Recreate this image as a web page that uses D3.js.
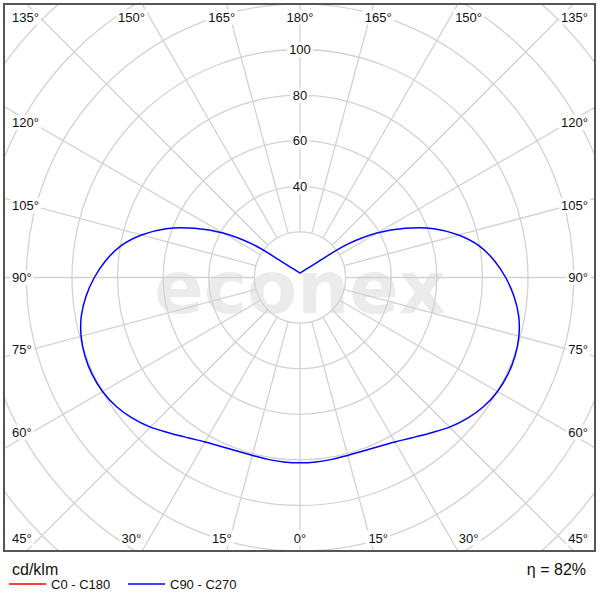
<!DOCTYPE html>
<html>
<head>
<meta charset="utf-8">
<script src="https://cdn.jsdelivr.net/npm/d3@7"></script>
<style>
body { margin: 0; background: #fff; }
svg { display: block; font-family: "Liberation Sans", Arial, sans-serif; }
</style>
</head>
<body>
<div id="polar"></div>
<script>
// gamma angles (deg from nadir) and intensity in cd/klm, one half plane, mirrored
const gammaAngles = [0, 5, 10, 15, 20, 25, 30, 35, 40, 45, 50, 55, 60, 65, 70, 75, 80, 85, 90,
		     95, 100, 105, 110, 115, 120, 125, 130, 135, 140, 145, 150, 155, 160, 165, 170, 175, 180];
const c90Values = [81.3, 81.2, 81.0, 80.8, 81.0, 81.8, 83.3, 85.8, 89.0, 92.8, 96.0, 98.5, 100.0, 100.6, 100.4, 99.4, 97.4, 94.2, 90.2,
		   85.5, 79.8, 72.0, 62.5, 51.0, 39.0, 25.5, 12.0, 7.0, 5.3, 4.3, 3.5, 3.0, 2.7, 2.4, 2.2, 2.05, 2.0];
const ringValues = [20, 40, 60, 80, 100, 120, 140, 160, 180];
const ringLabels = [40, 60, 80, 100];
const spokeAngles = d3.range(0, 360, 15);
const legendNames = ["C0 - C180", "C90 - C270"];
const legendColors = ["#ff0000", "#0000ff"];
const unitLabel = "cd/klm";
const effLabel = "\u03b7 = 82%";

const width = 600, height = 600;
const frame = { x: 4, y: 4, w: 591, h: 547 };
const cx = 300, cy = 277.5;

let svg = d3.select("#polar")
    .append("svg")
    .attr("width", width)
    .attr("height", height);

svg.append("rect")
    .attr("width", width).attr("height", height)
    .attr("fill", "#fff");

svg.append("clipPath")
    .attr("id", "frame-clip")
    .append("rect")
    .attr("x", frame.x).attr("y", frame.y)
    .attr("width", frame.w).attr("height", frame.h);

let r = d3.scaleLinear()
    .domain([0, 100])
    .range([0, 228]);

let plot = svg.append("g")
    .attr("clip-path", "url(#frame-clip)");

// watermark
plot.append("text")
    .attr("x", cx).attr("y", 313)
    .attr("text-anchor", "middle")
    .style("font-family", "'DejaVu Sans', Verdana, sans-serif")
    .style("font-weight", "bold")
    .style("font-size", "73px")
    .attr("fill", "#ebebeb")
    .text("econex");

let grid = plot.append("g")
    .attr("transform", "translate(" + cx + "," + cy + ")")
    .attr("fill", "none")
    .attr("stroke", "#d2d2d2")
    .attr("stroke-width", 1.3);

// rings
grid.selectAll("circle")
    .data(ringValues)
    .enter().append("circle")
    .attr("r", d => r(d));

// spokes, starting at the inner ring
grid.selectAll("line")
    .data(spokeAngles)
    .enter().append("line")
    .attr("x1", d => r(20) * Math.sin(d * Math.PI / 180))
    .attr("y1", d => r(20) * Math.cos(d * Math.PI / 180))
    .attr("x2", d => r(200) * Math.sin(d * Math.PI / 180))
    .attr("y2", d => r(200) * Math.cos(d * Math.PI / 180));

// full curve: right half 0..180, left half mirrored
let curvePts = [];
gammaAngles.forEach((g, i) => curvePts.push({ g: g, v: c90Values[i] }));
for (let i = gammaAngles.length - 2; i > 0; i--) {
    curvePts.push({ g: 360 - gammaAngles[i], v: c90Values[i] });
}

plot.append("path")
    .datum(curvePts)
    .attr("transform", "translate(" + cx + "," + cy + ")")
    .attr("fill", "none")
    .attr("stroke", legendColors[1])
    .attr("stroke-width", 1.5)
    .attr("d", d3.lineRadial()
	  .angle(d => Math.PI - d.g * Math.PI / 180)
	  .radius(d => r(d.v))
	  .curve(d3.curveCatmullRomClosed));

// labels with a white box behind them
function boxedLabel(parent, x, y, anchor, txt) {
    let g = parent.append("g");
    let t = g.append("text")
	.attr("x", x).attr("y", y)
	.attr("dy", "0.35em")
	.attr("text-anchor", anchor)
	.style("font-size", "13px")
	.attr("fill", "#111")
	.text(txt);
    let b = t.node().getBBox();
    g.insert("rect", "text")
	.attr("x", b.x - 2).attr("y", b.y)
	.attr("width", b.width + 4).attr("height", b.height)
	.attr("fill", "#fff");
}

function spokeLabelPos(g) {
    let a = g * Math.PI / 180;
    let sx = Math.sin(a), sy = Math.cos(a);
    let ax = Math.abs(sx), ay = Math.abs(sy);
    if (ay - ax > 0.01) {
	return { x: cx + 292 * sx / ay, y: sy > 0 ? 538 : 17, anchor: "middle" };
    }
    if (ax - ay > 0.01) {
	return { x: sx > 0 ? 588 : 12, y: cy + 268 * sy / ax, anchor: sx > 0 ? "end" : "start" };
    }
    return { x: sx > 0 ? 588 : 12, y: sy > 0 ? 538 : 17, anchor: sx > 0 ? "end" : "start" };
}

let labels = svg.append("g");
spokeAngles.forEach(function(g) {
    let p = spokeLabelPos(g);
    let deg = g <= 180 ? g : 360 - g;
    boxedLabel(labels, p.x, p.y, p.anchor, deg + "\u00b0");
});

ringLabels.forEach(function(v) {
    boxedLabel(labels, cx, cy - r(v), "middle", String(v));
});

// frame
svg.append("rect")
    .attr("x", frame.x).attr("y", frame.y)
    .attr("width", frame.w).attr("height", frame.h)
    .attr("fill", "none")
    .attr("stroke", "#555")
    .attr("stroke-width", 2);

// legend
svg.append("text")
    .attr("x", 12).attr("y", 575)
    .style("font-size", "16px")
    .attr("fill", "#111")
    .text(unitLabel);

svg.append("text")
    .attr("x", 586).attr("y", 575)
    .attr("text-anchor", "end")
    .style("font-size", "16px")
    .attr("fill", "#111")
    .text(effLabel);

let legend = svg.append("g");
legendNames.forEach(function(name, i) {
    let x0 = 9 + i * 119;
    legend.append("line")
	.attr("x1", x0).attr("x2", x0 + 37)
	.attr("y1", 584).attr("y2", 584)
	.attr("stroke", legendColors[i])
	.attr("stroke-width", 1.5);
    legend.append("text")
	.attr("x", x0 + 42).attr("y", 584)
	.attr("dy", "0.35em")
	.style("font-size", "13px")
	.attr("fill", "#111")
	.text(name);
});
</script>
</body>
</html>
